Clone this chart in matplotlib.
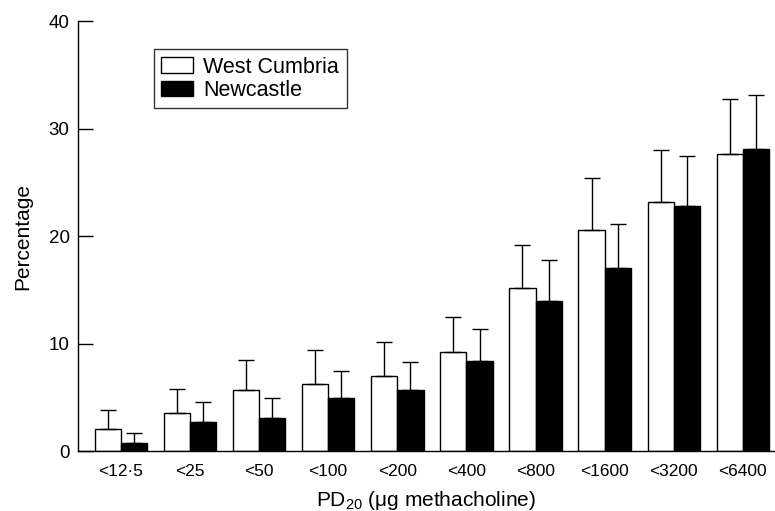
import matplotlib
matplotlib.use("Agg")
import matplotlib.pyplot as plt
import numpy as np
from matplotlib.patches import Patch

plt.rcParams['font.family'] = ['Liberation Sans', 'DejaVu Sans']
plt.rcParams['mathtext.default'] = 'regular'

# PD20 categories and percentages
categories = ["<12·5", "<25", "<50", "<100", "<200", "<400", "<800", "<1600", "<3200", "<6400"]
west_cumbria = [2.1, 3.6, 5.7, 6.3, 7.0, 9.2, 15.2, 20.6, 23.2, 27.6]
west_cumbria_top = [3.8, 5.8, 8.5, 9.4, 10.2, 12.5, 19.2, 25.4, 28.0, 32.8]
newcastle = [0.8, 2.7, 3.1, 5.0, 5.7, 8.4, 14.0, 17.0, 22.8, 28.1]
newcastle_top = [1.7, 4.6, 5.0, 7.5, 8.3, 11.4, 17.8, 21.1, 27.5, 33.1]

wc_err = np.array(west_cumbria_top) - np.array(west_cumbria)
nc_err = np.array(newcastle_top) - np.array(newcastle)

fig = plt.figure(figsize=(7.75, 5.11), dpi=100)
ax = fig.add_axes([0.1006, 0.1168, 0.899, 0.842])

x = np.arange(len(categories))
w = 0.38

ax.bar(x - w / 2, west_cumbria, w, color="white", edgecolor="black", linewidth=1.0)
ax.bar(x + w / 2, newcastle, w, color="black", edgecolor="black", linewidth=1.0)
ax.errorbar(x - w / 2, west_cumbria, yerr=[np.zeros(len(x)), wc_err], fmt="none",
            ecolor="black", elinewidth=1.0, capsize=5.5, capthick=1.0)
ax.errorbar(x + w / 2, newcastle, yerr=[np.zeros(len(x)), nc_err], fmt="none",
            ecolor="black", elinewidth=1.0, capsize=5.5, capthick=1.0)

ax.set_xlim(-0.62, 9.46)
ax.set_ylim(0, 40)
ax.set_yticks([0, 10, 20, 30, 40])
ax.set_xticks(x)
ax.set_xticklabels(categories)
ax.tick_params(axis="y", direction="in", length=11, width=1.0, pad=6, labelsize=13.5)
ax.tick_params(axis="x", length=0, pad=9, labelsize=12.5)

for s in ["top", "right"]:
    ax.spines[s].set_visible(False)
ax.spines["left"].set_linewidth(1.0)
ax.spines["bottom"].set_linewidth(1.0)

ax.set_ylabel("Percentage", fontsize=15, labelpad=12)
ax.set_xlabel(r"PD$_{20}$ (μg methacholine)", fontsize=15, labelpad=7)

handles = [Patch(facecolor="white", edgecolor="black", label="West Cumbria"),
           Patch(facecolor="black", edgecolor="black", label="Newcastle")]
leg = ax.legend(handles=handles, loc="upper left", bbox_to_anchor=(0.109, 0.935),
                fontsize=15.5, frameon=True, fancybox=False, borderpad=0.35,
                handlelength=1.45, handleheight=0.7, handletextpad=0.5,
                labelspacing=0.1, borderaxespad=0)
leg.get_frame().set_edgecolor("black")
leg.get_frame().set_linewidth(1.0)

fig.savefig("out.png", dpi=100)
